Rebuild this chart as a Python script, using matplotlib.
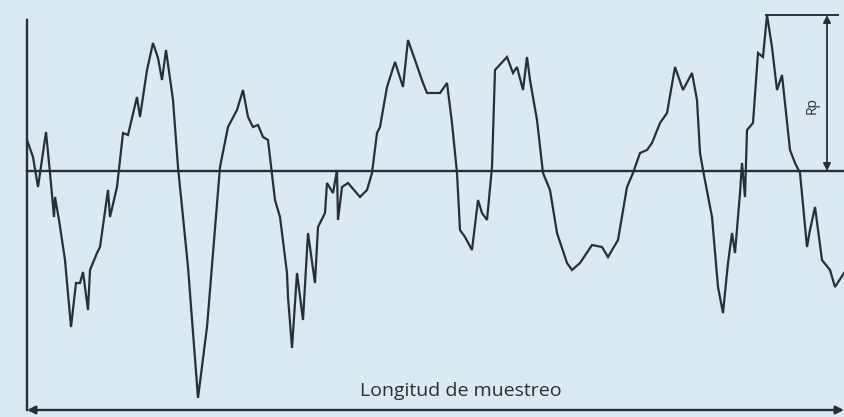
import matplotlib
matplotlib.use("Agg")
import matplotlib.pyplot as plt

# Profile trace: horizontal position (sampling-length units, px-like) and height above mean line
pos = [27, 33, 38, 46, 50, 54, 55, 59, 65, 71, 76, 80, 83, 88, 90, 97, 100, 108, 110, 117,
       123, 128, 137, 140, 147, 153, 158, 162, 166, 173, 178, 188, 198, 207, 220, 228, 237, 243,
       248, 253, 258, 263, 268, 275, 280, 287, 288, 292, 297, 303, 308, 315, 318, 325, 327, 333,
       337, 338, 342, 348, 360, 367, 372, 377, 380, 387, 395, 403, 408, 415, 423, 427, 440, 447,
       452, 457, 460, 465, 472, 478, 482, 487, 492, 495, 507, 513, 517, 523, 527, 530, 537, 543,
       550, 557, 567, 572, 580, 592, 602, 608, 618, 627, 633, 640, 647, 652, 660, 667, 675, 683,
       692, 697, 700, 703, 712, 718, 723, 728, 732, 735, 740, 742, 745, 747, 753, 758, 763, 767,
       772, 777, 782, 790, 795, 800, 807, 810, 815, 822, 830, 835, 844]
ypix = [140, 157, 187, 132, 173, 217, 197, 220, 260, 327, 283, 283, 272, 310, 270, 253, 247, 190, 217, 187,
        133, 135, 97, 117, 70, 43, 58, 80, 50, 100, 167, 267, 398, 327, 167, 127, 110, 90,
        117, 127, 125, 137, 140, 200, 217, 273, 297, 348, 273, 320, 233, 283, 227, 213, 183, 193,
        170, 220, 187, 183, 197, 190, 173, 133, 127, 87, 62, 87, 40, 60, 83, 93, 93, 83,
        123, 173, 230, 237, 250, 200, 213, 220, 167, 70, 57, 73, 67, 90, 57, 80, 120, 173,
        190, 233, 263, 270, 263, 245, 247, 257, 240, 187, 173, 153, 150, 143, 123, 113, 67, 90,
        73, 100, 153, 170, 217, 287, 313, 263, 233, 253, 193, 163, 197, 130, 123, 53, 57, 15,
        47, 90, 75, 150, 163, 173, 247, 230, 207, 260, 270, 287, 273]
MEAN_PIX = 171
height = [MEAN_PIX - v for v in ypix]

axis_label = "Longitud de muestreo"
rp_label = "Rp"

ink = "#283035"
bg = "#dbe9f1"

fig = plt.figure(figsize=(8.44, 4.17), dpi=100)
fig.patch.set_facecolor(bg)
ax = fig.add_axes([0, 0, 1, 1])
ax.set_facecolor(bg)
ax.set_xlim(0, 844)
ax.set_ylim(MEAN_PIX - 417, MEAN_PIX)
ax.axis("off")

# profile
ax.plot(pos, height, color=ink, lw=1.6, solid_joinstyle="miter")

# mean line
ax.plot([27, 844], [0, 0], color=ink, lw=1.7)
# vertical axis
ax.plot([27, 27], [MEAN_PIX - 20, MEAN_PIX - 410], color=ink, lw=1.7)

# sampling length arrow
ax.annotate("", xy=(27, MEAN_PIX - 410), xytext=(844, MEAN_PIX - 410),
            arrowprops=dict(arrowstyle="<|-|>", color=ink, lw=1.7, mutation_scale=12,
                            shrinkA=0, shrinkB=0))
ax.text(461, MEAN_PIX - 391, axis_label, ha="center", va="center",
        fontsize=14, color=ink, family="Open Sans")

# Rp bracket
peak_h = max(height)
ax.plot([766, 838], [peak_h, peak_h], color=ink, lw=1.4)
ax.annotate("", xy=(827, peak_h), xytext=(827, 0),
            arrowprops=dict(arrowstyle="<|-|>", color=ink, lw=1.3, mutation_scale=11,
                            shrinkA=0, shrinkB=0))
ax.text(812, MEAN_PIX - 106, rp_label, rotation=90, ha="center", va="center",
        fontsize=10, color=ink, family="Open Sans")

fig.savefig("out.png", dpi=100, facecolor=bg)
